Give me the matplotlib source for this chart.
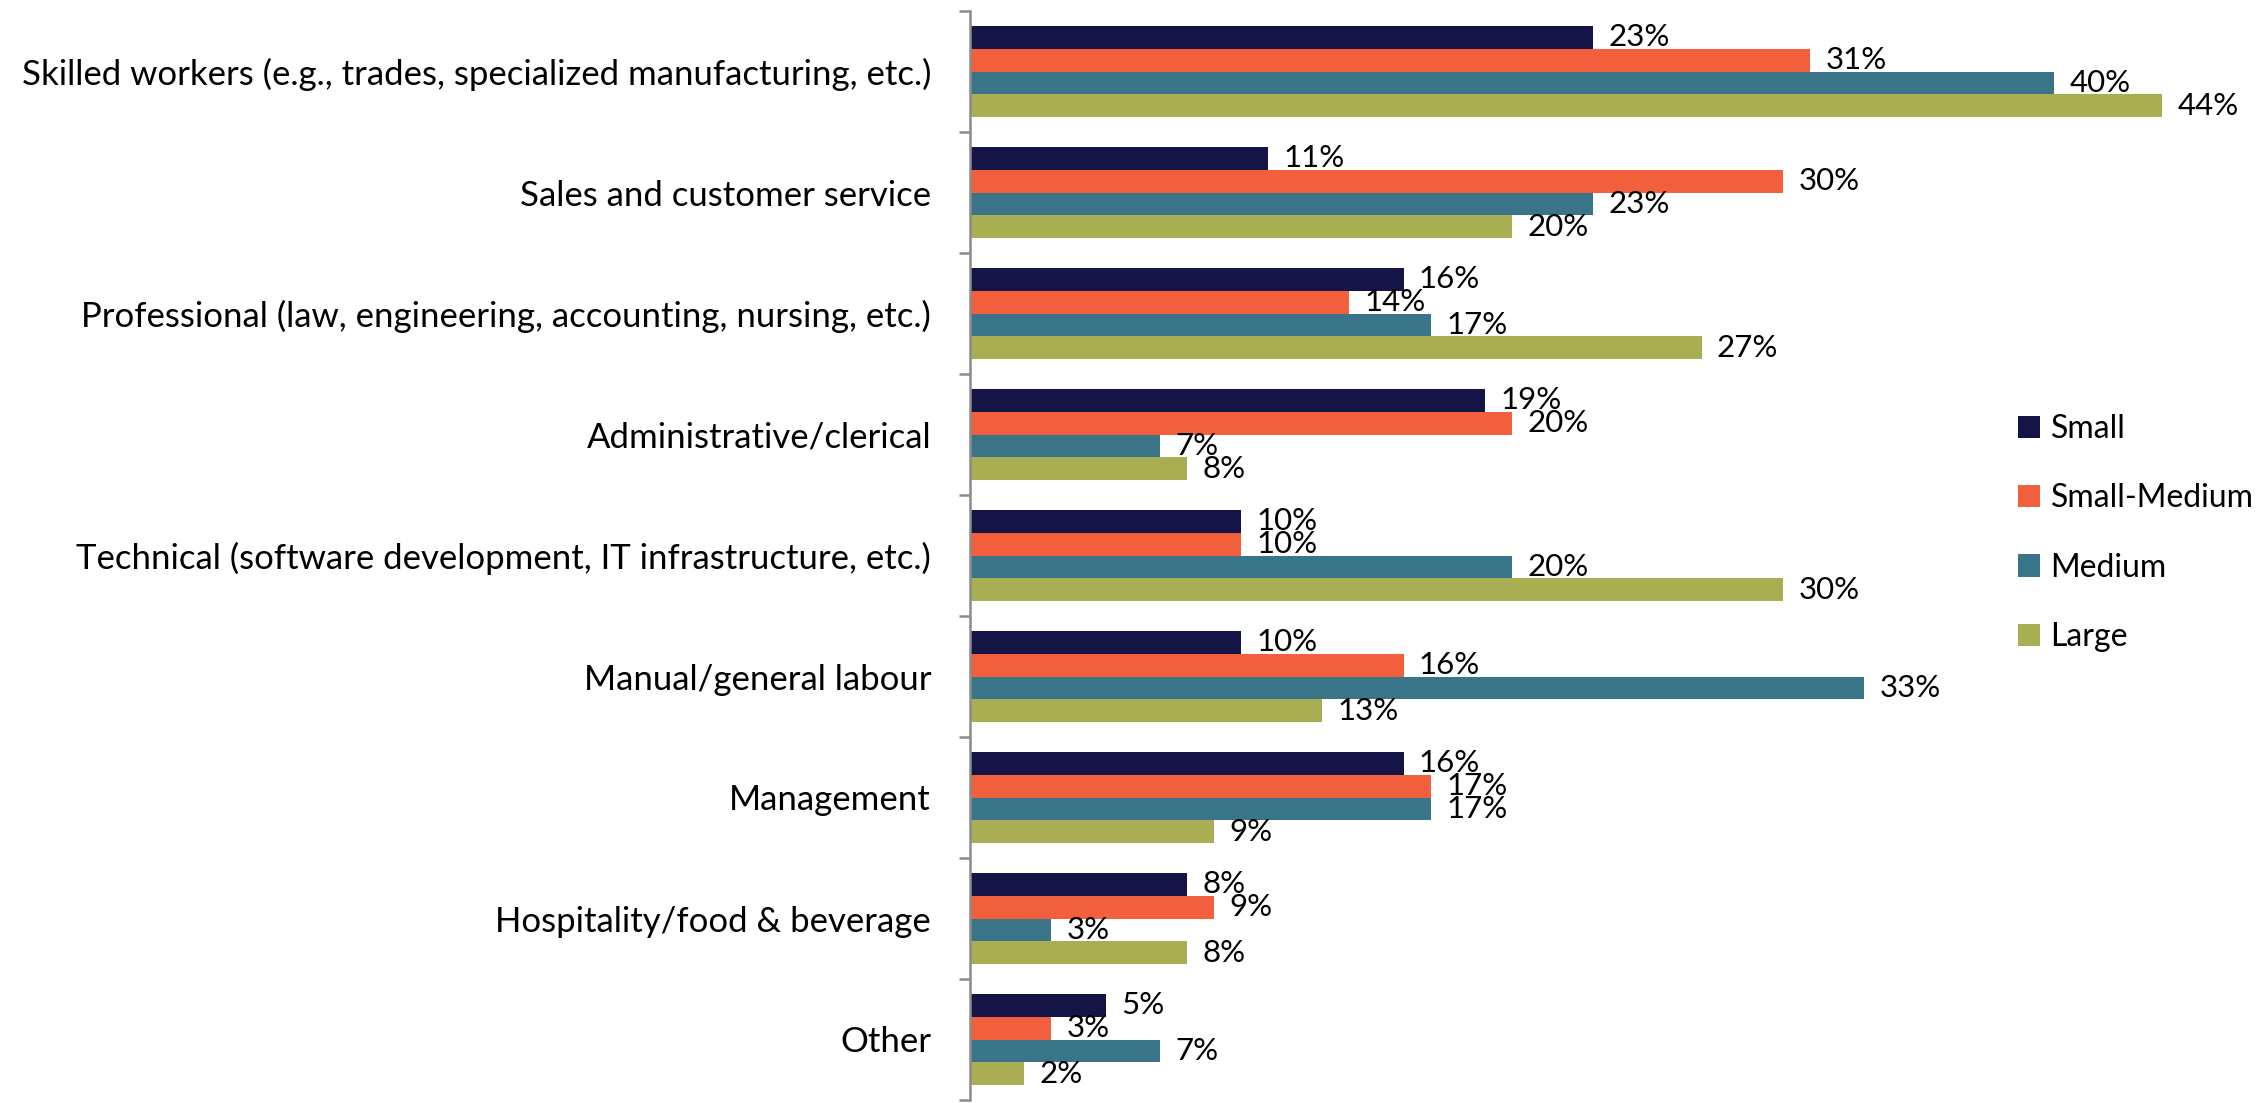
import matplotlib
matplotlib.use("Agg")
import matplotlib.pyplot as plt
from matplotlib.patches import Patch

plt.rcParams['font.family'] = ['Lato', 'DejaVu Sans']

categories = [
    "Skilled workers (e.g., trades, specialized manufacturing, etc.)",
    "Sales and customer service",
    "Professional (law, engineering, accounting, nursing, etc.)",
    "Administrative/clerical",
    "Technical (software development, IT infrastructure, etc.)",
    "Manual/general labour",
    "Management",
    "Hospitality/food & beverage",
    "Other",
]
series_names = ["Small", "Small-Medium", "Medium", "Large"]
small = [23, 11, 16, 19, 10, 10, 16, 8, 5]
small_medium = [31, 30, 14, 20, 10, 16, 17, 9, 3]
medium = [40, 23, 17, 7, 20, 33, 17, 3, 7]
large = [44, 20, 27, 8, 30, 13, 9, 8, 2]
colors = ["#141446", "#F15F3C", "#3A7489", "#A9AE52"]

W, H, DPI = 2264, 1103, 100
fig = plt.figure(figsize=(W / DPI, H / DPI), dpi=DPI)
left_px, top_px, bottom_px = 970, 11, 1100
ax = fig.add_axes([left_px / W, 1 - bottom_px / H, 1 - left_px / W, (bottom_px - top_px) / H])

px_per_pct = 27.1
ax.set_xlim(0, (W - left_px) / px_per_pct)
ax.set_ylim(len(categories) - 0.5, -0.5)

bar_h = 0.19
series = [small, small_medium, medium, large]
for i, (vals, name, col) in enumerate(zip(series, series_names, colors)):
    ys = [c + (i - 1.5) * bar_h for c in range(len(categories))]
    ax.barh(ys, vals, height=bar_h, color=col, label=name)
    for y, v in zip(ys, vals):
        ax.annotate(f"{v}%", xy=(v, y), xytext=(11, 0), textcoords="offset points",
                    va="center", ha="left", fontsize=22.5, color="black")

for s in ["top", "right", "bottom"]:
    ax.spines[s].set_visible(False)
ax.spines["left"].set_color("#8C8C8C")
ax.spines["left"].set_linewidth(1.8)
ax.set_xticks([])
ax.set_yticks(range(len(categories)))
ax.set_yticklabels(categories, fontsize=25)
ax.tick_params(axis="y", which="major", length=0, pad=28)
ax.set_yticks([c - 0.5 for c in range(len(categories) + 1)], minor=True)
ax.tick_params(axis="y", which="minor", length=8, width=1.8, color="#8C8C8C")

handles = [Patch(facecolor=c, edgecolor="none") for c in colors]
fig.legend(handles, series_names, loc="center left",
           bbox_to_anchor=(2018 / W, 1 - 533 / H), frameon=False,
           fontsize=23, handlelength=0.69, handleheight=0.69,
           handletextpad=0.33, labelspacing=1.23, borderpad=0, borderaxespad=0)

fig.savefig("out.png", dpi=DPI)
